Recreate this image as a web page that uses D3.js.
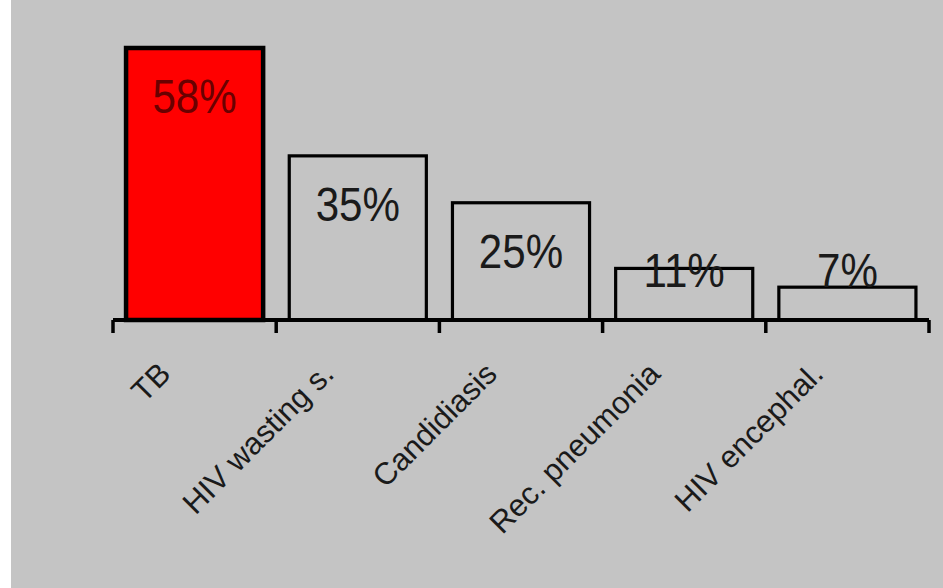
<!DOCTYPE html>
<html><head><meta charset="utf-8">
<script src="https://cdn.jsdelivr.net/npm/d3@7"></script>
<style>
html,body{margin:0;padding:0;background:#fff;}
svg{display:block;}
</style></head>
<body>
<svg id="chart" width="943" height="588"></svg>
<script>
const categories = ["TB", "HIV wasting s.", "Candidiasis", "Rec. pneumonia", "HIV encephal."];
const values = [58, 35, 25, 11, 7];
const valueLabels = ["58%", "35%", "25%", "11%", "7%"];
const barColors = ["#ff0000", "#c4c4c4", "#c4c4c4", "#c4c4c4", "#c4c4c4"];
const labelColors = ["#6a0000", "#1a1a1a", "#1a1a1a", "#1a1a1a", "#1a1a1a"];

const svg = d3.select("#chart");
svg.append("rect").attr("x", 11).attr("y", 0).attr("width", 932).attr("height", 588).attr("fill", "#c4c4c4");

const x = d3.scaleBand().domain(categories).range([113, 929]).paddingInner(0.16).paddingOuter(0.08);
const y = d3.scaleLinear().domain([0, 58]).range([320, 48]);

const g = svg.append("g");
g.selectAll("rect.bar").data(categories).join("rect")
  .attr("class", "bar")
  .attr("x", d => x(d))
  .attr("y", (d, i) => y(values[i]))
  .attr("width", x.bandwidth())
  .attr("height", (d, i) => y(0) - y(values[i]))
  .attr("fill", (d, i) => barColors[i])
  .attr("stroke", "#000")
  .attr("stroke-width", (d, i) => i === 0 ? 4.5 : 3.2);

// value labels
g.selectAll("text.val").data(categories).join("text")
  .attr("class", "val")
  .attr("transform", (d, i) => {
    const cx = x(d) + x.bandwidth() / 2;
    const by = Math.min(y(values[i]) + 65, 287);
    return `translate(${cx},${by}) scale(0.86,1)`;
  })
  .attr("text-anchor", "middle")
  .attr("font-family", "Liberation Sans, Arial, sans-serif")
  .attr("font-size", 49)
  .attr("fill", (d, i) => labelColors[i])
  .text((d, i) => valueLabels[i]);

// x axis
const axis = d3.axisBottom(x).tickSize(0).tickFormat("");
const ax = svg.append("g").attr("transform", "translate(0,320)").call(axis);
ax.select(".domain").attr("stroke", "#000").attr("stroke-width", 4).attr("d", "M113,0H929");
const step = x.step();
const boundaries = d3.range(categories.length + 1).map(i => x.range()[0] + i * step);
ax.selectAll("line.bt").data(boundaries).join("line")
  .attr("class", "bt")
  .attr("x1", d => d).attr("x2", d => d)
  .attr("y1", 0).attr("y2", 13)
  .attr("stroke", "#000").attr("stroke-width", 3.5);

svg.append("g").selectAll("text.cat").data(categories).join("text")
  .attr("class", "cat")
  .attr("transform", d => `translate(${x(d) + x.bandwidth() / 2 - 30},${368}) rotate(-45)`)
  .attr("text-anchor", "end")
  .attr("dy", "0.35em")
  .attr("font-family", "Liberation Sans, Arial, sans-serif")
  .attr("font-size", 31)
  .attr("fill", "#1a1a1a")
  .text(d => d);
</script>
</body></html>
